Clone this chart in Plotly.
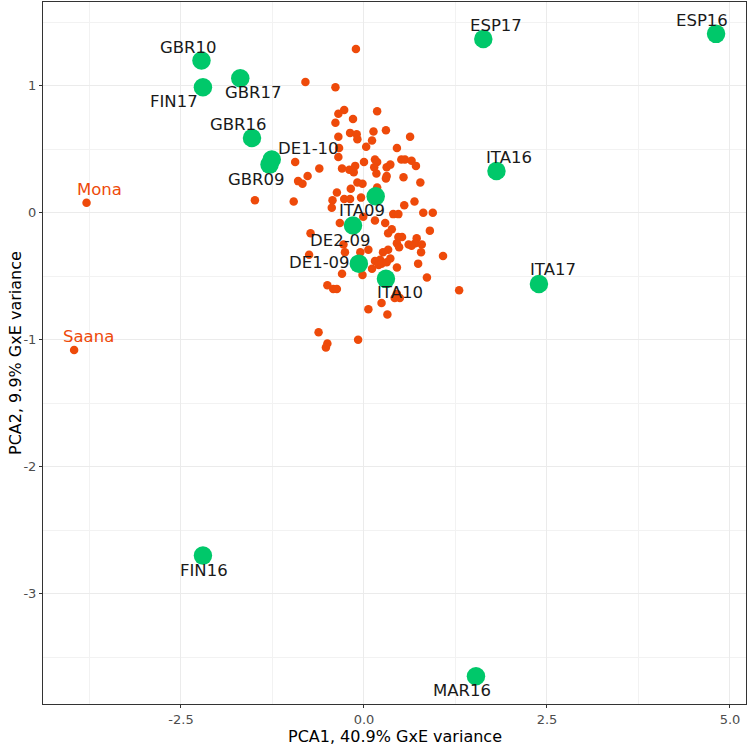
import plotly.graph_objects as go

# Environments (green points)
env_names = ["ESP16", "ESP17", "ITA16", "ITA17", "GBR10", "FIN17", "GBR17", "GBR16",
             "DE1-10", "GBR09", "ITA09", "DE2-09", "DE1-09", "ITA10", "FIN16", "MAR16"]
env_x = [4.81, 1.63, 1.81, 2.39, -2.22, -2.20, -1.69, -1.53,
         -1.26, -1.29, 0.16, -0.15, -0.07, 0.30, -2.20, 1.53]
env_y = [1.41, 1.37, 0.33, -0.56, 1.20, 0.99, 1.06, 0.59,
         0.42, 0.38, 0.13, -0.10, -0.40, -0.52, -2.70, -3.65]

# Genotypes (orange points)
geno_x = [-0.11, -0.80, -0.39, -0.27, -0.35, -0.39, -0.15, 0.18, 0.30, 0.13,
          -0.19, -0.10, -0.35, -0.09, 0.11, 0.63, 0.03, -0.34, -0.35, 0.45,
          -0.94, -0.61, -0.77, -0.90, -0.84, -0.30, -0.20, -0.14, 0.00, 0.15,
          0.18, 0.14, 0.17, 0.31, 0.36, 0.51, 0.56, 0.65, 0.71, 0.31,
          0.30, 0.54, 0.77, -0.09, -0.02, -0.18, -0.37, -0.27, -0.19, -0.43,
          -0.96, 0.18, 0.55, 0.69, -0.44, -1.49, -0.12, 0.81, 0.94, 0.40,
          0.47, -0.01, 0.15, 0.29, -0.33, -0.73, 0.38, 0.33, 0.90, 0.47,
          0.52, 0.72, 0.70, 0.79, 0.61, 0.65, 0.45, 0.48, 0.33, 0.26,
          0.78, 1.08, -0.26, -0.05, 0.06, -0.75, 0.22, 0.15, 0.20, 0.24,
          0.31, 0.36, 0.45, 0.74, 0.11, -0.30, -0.02, 0.86, 1.30, -0.50,
          -0.42, -0.37, 0.45, 0.49, 0.42, 0.24, 0.06, 0.32, -0.62, -0.50,
          -0.52, -0.08, -0.04, -0.28]
geno_y = [1.29, 1.03, 0.99, 0.81, 0.78, 0.71, 0.74, 0.80, 0.65, 0.64,
          0.63, 0.62, 0.60, 0.58, 0.57, 0.60, 0.52, 0.51, 0.44, 0.51,
          0.40, 0.35, 0.29, 0.25, 0.23, 0.35, 0.34, 0.32, 0.40, 0.42,
          0.40, 0.36, 0.31, 0.36, 0.38, 0.42, 0.42, 0.41, 0.37, 0.29,
          0.27, 0.28, 0.24, 0.24, 0.23, 0.19, 0.16, 0.11, 0.11, 0.10,
          0.09, 0.20, 0.06, 0.09, 0.04, 0.10, 0.37, 0.00, 0.00, -0.01,
          -0.01, -0.03, -0.06, -0.08, -0.08, -0.16, -0.13, -0.16, -0.14, -0.19,
          -0.19, -0.20, -0.24, -0.25, -0.25, -0.26, -0.24, -0.27, -0.29, -0.31,
          -0.31, -0.34, -0.31, -0.31, -0.29, -0.33, -0.37, -0.38, -0.41, -0.40,
          -0.39, -0.36, -0.43, -0.40, -0.44, -0.48, -0.49, -0.51, -0.61, -0.57,
          -0.60, -0.60, -0.64, -0.67, -0.67, -0.71, -0.76, -0.80, -0.94, -1.03,
          -1.06, -1.00, 0.12, -0.25]

# Named genotypes
named_geno = ["Mona", "Saana"]
named_x = [-3.79, -3.96]
named_y = [0.08, -1.08]

# Tick labels
x_ticks = [-2.5, 0.0, 2.5, 5.0]
x_ticktext = ["-2.5", "0.0", "2.5", "5.0"]
y_ticks = [-3, -2, -1, 0, 1]
y_ticktext = ["-3", "-2", "-1", "0", "1"]
x_minor = [-3.75, -1.25, 1.25, 3.75]
y_minor = [-3.5, -2.5, -1.5, -0.5, 0.5, 1.5]

# Label pixel offsets (style only)
env_dx = [-14, 13, 13, 14, -13, -29, 13, -13, 37, -13, -14, -13, -39, 14, 1, -14]
env_dy = [-13, -13, -13, -14, -13, 14, 14, -13, -11, 15, 14, 15, -1, 14, 15, 14]
named_dx = [13, 14]
named_dy = [-13, -13]

GREEN = "#00C86A"
ORANGE = "#EE4A0A"
FONT = "DejaVu Sans"

fig = go.Figure()
fig.add_trace(go.Scatter(x=geno_x + named_x, y=geno_y + named_y, mode="markers",
                         marker=dict(color=ORANGE, size=8.5, line=dict(width=0)),
                         hoverinfo="skip", showlegend=False))
fig.add_trace(go.Scatter(x=env_x, y=env_y, mode="markers",
                         marker=dict(color=GREEN, size=18.5, line=dict(width=0)),
                         hoverinfo="skip", showlegend=False))

for n, x, y, dx, dy in zip(env_names, env_x, env_y, env_dx, env_dy):
    fig.add_annotation(x=x, y=y, text=n, showarrow=False, xshift=dx, yshift=-dy,
                       font=dict(family=FONT, size=16.5, color="#1A1A1A"))
for n, x, y, dx, dy in zip(named_geno, named_x, named_y, named_dx, named_dy):
    fig.add_annotation(x=x, y=y, text=n, showarrow=False, xshift=dx, yshift=-dy,
                       font=dict(family=FONT, size=16.5, color=ORANGE))

# Axis titles
fig.add_annotation(xref="paper", yref="paper", x=0.5, y=0, yshift=-44,
                   text="PCA1, 40.9% GxE variance", showarrow=False,
                   xanchor="center", yanchor="bottom",
                   font=dict(family=FONT, size=16, color="#000000"))
fig.add_annotation(xref="paper", yref="paper", x=0, y=0.5, xshift=-28,
                   text="PCA2, 9.9% GxE variance", showarrow=False, textangle=-90,
                   xanchor="center", yanchor="middle",
                   font=dict(family=FONT, size=16, color="#000000"))

axis_common = dict(showgrid=True, gridcolor="#EBEBEB", gridwidth=1.1,
                   zeroline=False, showline=True, linecolor="#333333", linewidth=1,
                   mirror=True, ticks="outside", ticklen=3, tickwidth=1,
                   tickcolor="#333333",
                   tickfont=dict(family=FONT, size=13, color="#4D4D4D"))

fig.update_xaxes(range=[-4.385, 5.219], tickmode="array", tickvals=x_ticks,
                 ticktext=x_ticktext,
                 minor=dict(tickmode="array", tickvals=x_minor, showgrid=True,
                            gridcolor="#F2F2F2", gridwidth=0.6, ticks=""),
                 **axis_common)
fig.update_yaxes(range=[-3.869, 1.661], tickmode="array", tickvals=y_ticks,
                 ticktext=y_ticktext,
                 minor=dict(tickmode="array", tickvals=y_minor, showgrid=True,
                            gridcolor="#F2F2F2", gridwidth=0.6, ticks=""),
                 **axis_common)

fig.update_layout(width=749, height=748, margin=dict(l=43, r=3, t=2, b=44),
                  plot_bgcolor="white", paper_bgcolor="white",
                  font=dict(family=FONT))

fig.write_html("out.html")
